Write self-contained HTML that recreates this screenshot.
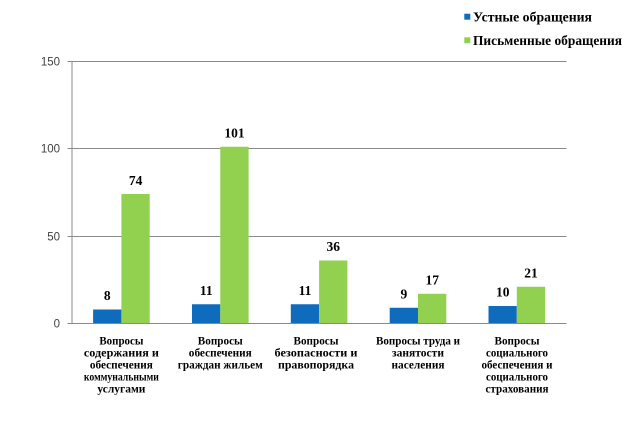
<!DOCTYPE html>
<html><head><meta charset="utf-8"><style>
html,body{margin:0;padding:0;background:#fff;}
svg{display:block;}
.ax{font-family:"Liberation Sans","DejaVu Sans",sans-serif;font-size:11.5px;fill:#404040;}
.dl{font-family:"Liberation Serif","Noto Serif CJK SC",serif;font-size:13.5px;font-weight:bold;fill:#000;}
.cl{font-family:"Liberation Serif","Noto Serif CJK SC",serif;font-size:11.5px;font-weight:bold;fill:#000;}
.lg{font-family:"Liberation Serif","Noto Serif CJK SC",serif;font-size:13.5px;font-weight:bold;fill:#000;}
</style></head><body>
<svg width="637" height="441" viewBox="0 0 637 441" xmlns="http://www.w3.org/2000/svg">
<rect width="637" height="441" fill="#fff"/>
<!-- gridlines -->
<g stroke="#8a8a8a" stroke-width="1">
<line x1="67.5" y1="61.5" x2="566.5" y2="61.5"/>
<line x1="67.5" y1="148.5" x2="566.5" y2="148.5"/>
<line x1="67.5" y1="236.5" x2="566.5" y2="236.5"/>
<line x1="72" y1="61" x2="72" y2="324"/>
</g>
<!-- y labels -->
<text class="ax" x="60" y="65.5" text-anchor="end">150</text>
<text class="ax" x="60" y="152.5" text-anchor="end">100</text>
<text class="ax" x="60" y="240.5" text-anchor="end">50</text>
<text class="ax" x="60" y="327.5" text-anchor="end">0</text>
<!-- bars -->
<g fill="#0F6CBD">
<rect x="93.1" y="309.5" width="28.3" height="14"/>
<rect x="192" y="304.25" width="28.3" height="19.25"/>
<rect x="290.8" y="304.25" width="28.3" height="19.25"/>
<rect x="389.7" y="307.75" width="28.3" height="15.75"/>
<rect x="488.5" y="306" width="28.3" height="17.5"/>
</g>
<g fill="#92D050">
<rect x="121.4" y="194" width="28.3" height="129.5"/>
<rect x="220.3" y="146.75" width="28.3" height="176.75"/>
<rect x="319.1" y="260.5" width="28.3" height="63"/>
<rect x="418" y="293.75" width="28.3" height="29.75"/>
<rect x="516.8" y="286.75" width="28.3" height="36.75"/>
</g>
<!-- zero line -->
<line x1="67.5" y1="323.5" x2="566.5" y2="323.5" stroke="#8a8a8a" stroke-width="1"/>
<!-- data labels -->
<g class="dl" text-anchor="middle">
<text x="107.3" y="300">8</text>
<text x="206.2" y="295">11</text>
<text x="305" y="295">11</text>
<text x="403.9" y="298.5">9</text>
<text x="502.7" y="296.5">10</text>
<text x="135.6" y="185">74</text>
<text x="234.5" y="137.5">101</text>
<text x="333.3" y="251">36</text>
<text x="432.2" y="284.5">17</text>
<text x="531" y="277.5">21</text>
</g>
<!-- category labels -->
<g class="cl" text-anchor="middle">
<text x="121.4" y="344.3" textLength="44" lengthAdjust="spacingAndGlyphs">Вопросы</text>
<text x="121.4" y="356.4" textLength="75" lengthAdjust="spacingAndGlyphs">содержания и</text>
<text x="121.4" y="368.5" textLength="63" lengthAdjust="spacingAndGlyphs">обеспечения</text>
<text x="121.4" y="380.6" textLength="75" lengthAdjust="spacingAndGlyphs">коммунальными</text>
<text x="121.4" y="392.7" textLength="48" lengthAdjust="spacingAndGlyphs">услугами</text>

<text x="220.3" y="344.3" textLength="45" lengthAdjust="spacingAndGlyphs">Вопросы</text>
<text x="220.3" y="356.4" textLength="63" lengthAdjust="spacingAndGlyphs">обеспечения</text>
<text x="220.3" y="368.5" textLength="85" lengthAdjust="spacingAndGlyphs">граждан жильем</text>

<text x="316" y="344.3" textLength="45" lengthAdjust="spacingAndGlyphs">Вопросы</text>
<text x="316" y="356.4" textLength="83" lengthAdjust="spacingAndGlyphs">безопасности и</text>
<text x="316" y="368.5" textLength="76" lengthAdjust="spacingAndGlyphs">правопорядка</text>

<text x="418" y="344.3" textLength="84" lengthAdjust="spacingAndGlyphs">Вопросы труда и</text>
<text x="418" y="356.4" textLength="52" lengthAdjust="spacingAndGlyphs">занятости</text>
<text x="418" y="368.5" textLength="53" lengthAdjust="spacingAndGlyphs">населения</text>

<text x="517" y="344.3" textLength="45" lengthAdjust="spacingAndGlyphs">Вопросы</text>
<text x="517" y="356.4" textLength="62" lengthAdjust="spacingAndGlyphs">социального</text>
<text x="517" y="368.5" textLength="71" lengthAdjust="spacingAndGlyphs">обеспечения и</text>
<text x="517" y="380.6" textLength="62" lengthAdjust="spacingAndGlyphs">социального</text>
<text x="517" y="392.7" textLength="63" lengthAdjust="spacingAndGlyphs">страхования</text>
</g>
<!-- legend -->
<rect x="464.3" y="13.7" width="6" height="6" fill="#0F6CBD"/>
<text class="lg" x="473" y="21.5" textLength="119" lengthAdjust="spacingAndGlyphs">Устные обращения</text>
<rect x="464.3" y="37.3" width="6" height="6" fill="#92D050"/>
<text class="lg" x="473" y="45" textLength="149" lengthAdjust="spacingAndGlyphs">Письменные обращения</text>
</svg>
</body></html>
